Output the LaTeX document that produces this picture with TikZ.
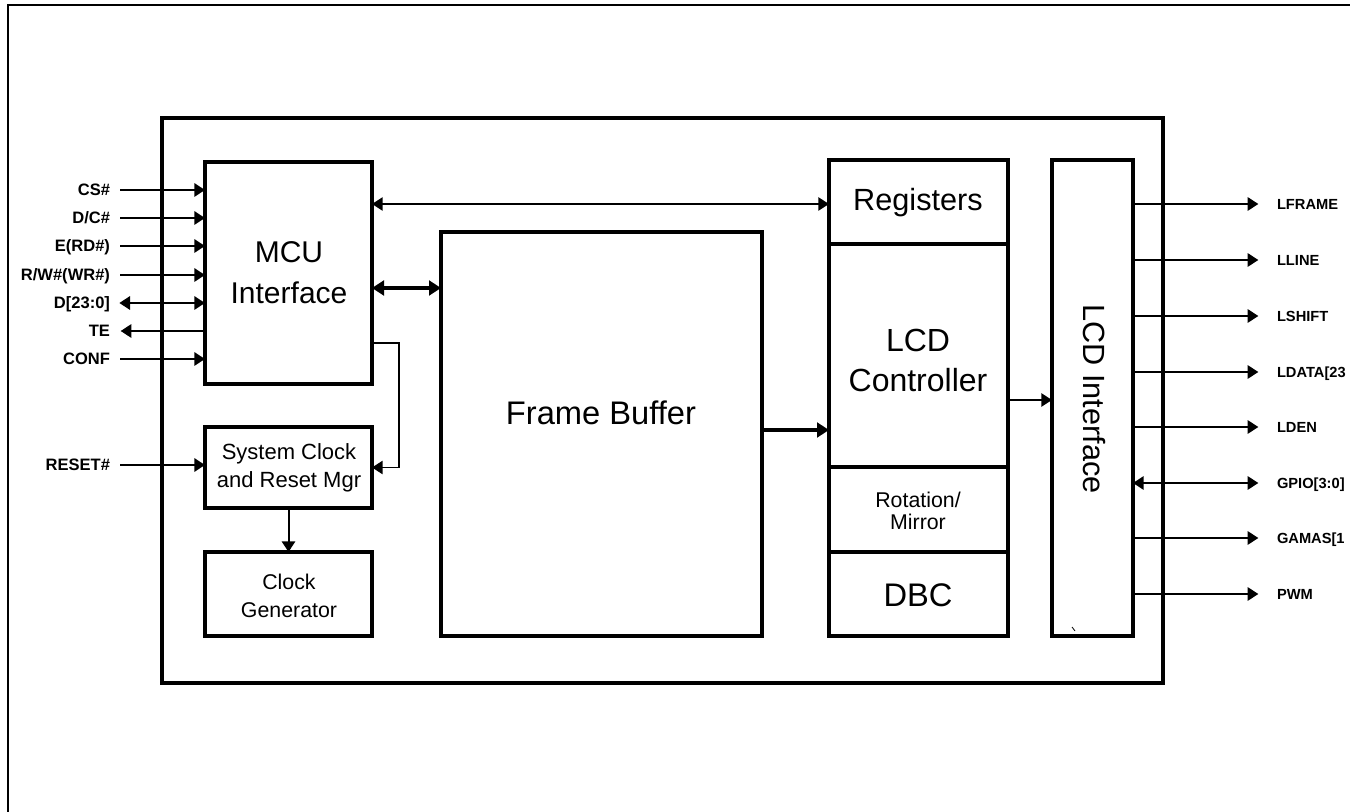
\documentclass[tikz,border=0pt]{standalone}
\usepackage{fontspec}
\setmainfont{Liberation Sans}
\usetikzlibrary{arrows.meta,fit}
\begin{document}
\begin{tikzpicture}[x=0.75pt,y=-0.75pt,
  box/.style={draw, line width=3.6pt, inner sep=0pt, outer sep=0pt},
  chip/.style={draw, line width=3.6pt},
  lbl/.style={align=center, inner sep=0pt},
  sigL/.style={font=\fontsize{12.4pt}{14pt}\selectfont\bfseries, inner sep=0pt, outer sep=0pt, anchor=east, text height=8.9pt, text depth=0pt},
  sigR/.style={font=\fontsize{11pt}{14pt}\selectfont\bfseries, inner sep=0pt, outer sep=0pt, anchor=west, text height=7.9pt, text depth=0pt},
  tip/.tip={Triangle[length=8pt,width=10pt]},
  sig/.style={line width=1.5pt},
  thin/.style={line width=1.1pt},
  bus/.style={line width=3pt}
]
\useasboundingbox (0,0) rectangle (1350,812);
% outer frame
\draw[line width=1.5pt] (8,812) -- (8,5) -- (1350,5);
% chip outline
\draw[chip] (162,118) rectangle (1163,683);

% blocks
\node[box, fit={(205,162) (372,384)}] (mcu) {};
\node[box, fit={(205,427) (372,508)}] (sys) {};
\node[box, fit={(205,552) (372,636)}] (cg) {};
\node[box, fit={(441,232) (762,636)}] (fb) {};
\node[box, fit={(829,160) (1008,244)}] (regs) {};
\node[box, fit={(829,244) (1008,467)}] (lcdc) {};
\node[box, fit={(829,467) (1008,552)}] (rot) {};
\node[box, fit={(829,552) (1008,636)}] (dbc) {};
\node[box, fit={(1052,160) (1133,636)}] (lif) {};

% block texts
\node[lbl, font=\fontsize{22.5pt}{31pt}\selectfont] (mcut) at (289,273) {MCU\\Interface};
\node[lbl, font=\fontsize{16.5pt}{21pt}\selectfont] (syst) at (289,468) {System Clock\\and Reset Mgr};
\node[lbl, font=\fontsize{16pt}{20.5pt}\selectfont] (cgt) at (289,596) {Clock\\Generator};
\node[lbl, font=\fontsize{24.5pt}{30pt}\selectfont] (fbt) at (601,413) {Frame Buffer};
\node[lbl, font=\fontsize{23pt}{30pt}\selectfont] (regst) at (918,203) {Registers};
\node[lbl, font=\fontsize{24pt}{30pt}\selectfont] (lcdct) at (918,360) {LCD\\Controller};
\node[lbl, font=\fontsize{16pt}{17pt}\selectfont] (rott) at (918,511) {Rotation/\\Mirror};
\node[lbl, font=\fontsize{24.5pt}{30pt}\selectfont] (dbct) at (918,595) {DBC};
\node[lbl, rotate=-90, font=\fontsize{23pt}{30pt}\selectfont] (lift) at (1094,399) {LCD Interface};
\draw[line width=0.6pt] (1072,627) -- (1075,631);

% helper coordinates
\coordinate (yreg) at (0,204);
\coordinate (ybus) at (0,288);
\coordinate (ymc) at (0,343);
\coordinate (xmc) at (399,0);
\coordinate (yfb) at (0,430);
\coordinate (ylc) at (0,400);

% internal connectors
\draw[thin, tip-tip] (mcu.east |- yreg) -- (regs.west |- yreg);
\draw[bus, {Triangle[length=9pt,width=11pt]}-{Triangle[length=9pt,width=11pt]}] (mcu.east |- ybus) -- (fb.west |- ybus);
\draw[thin, -tip] (mcu.east |- ymc) -- (xmc |- ymc) -- (xmc |- sys.east) -- (sys.east);
\draw[sig, -tip] (sys.south) -- (cg.north);
\draw[bus, -{Triangle[length=9pt,width=11pt]}] (fb.east |- yfb) -- (lcdc.west |- yfb);
\draw[thin, -tip] (lcdc.east |- ylc) -- (lif.west |- ylc);

% left signals
\node[sigL] (s1) at (110,190) {CS\#};
\node[sigL] (s2) at (110,218) {D/C\#};
\node[sigL] (s3) at (110,246) {E(RD\#)};
\node[sigL] (s4) at (110,275) {R/W\#(WR\#)};
\node[sigL] (s5) at (110,303) {D[23:0]};
\node[sigL] (s6) at (110,331) {TE};
\node[sigL] (s7) at (110,359) {CONF};
\node[sigL] (s8) at (110,465) {RESET\#};
\foreach \s in {s1,s2,s3,s4,s7,s8}{
  \draw[sig, -tip, shorten <=7.5pt] (\s.east) -- (\s.east -| mcu.west);
}
\draw[sig, tip-tip, shorten <=7pt] (s5.east) -- (s5.east -| mcu.west);
\draw[sig, tip-, shorten <=8pt] (s6.east) -- (s6.east -| mcu.west);

% right signals
\node[sigR] (r1) at (1277,204) {LFRAME};
\node[sigR] (r2) at (1277,260) {LLINE};
\node[sigR] (r3) at (1277,316) {LSHIFT};
\node[sigR] (r4) at (1277,372) {LDATA[23};
\node[sigR] (r5) at (1277,427) {LDEN};
\node[sigR] (r6) at (1277,483) {GPIO[3:0]};
\node[sigR] (r7) at (1277,538) {GAMAS[1};
\node[sigR] (r8) at (1277,594) {PWM};
\foreach \r in {r1,r2,r3,r4,r5,r7,r8}{
  \draw[sig, -tip, shorten >=14pt] (\r.west -| lif.east) -- (\r.west);
}
\draw[sig, tip-tip, shorten >=14pt] (r6.west -| lif.east) -- (r6.west);
\end{tikzpicture}
\end{document}
